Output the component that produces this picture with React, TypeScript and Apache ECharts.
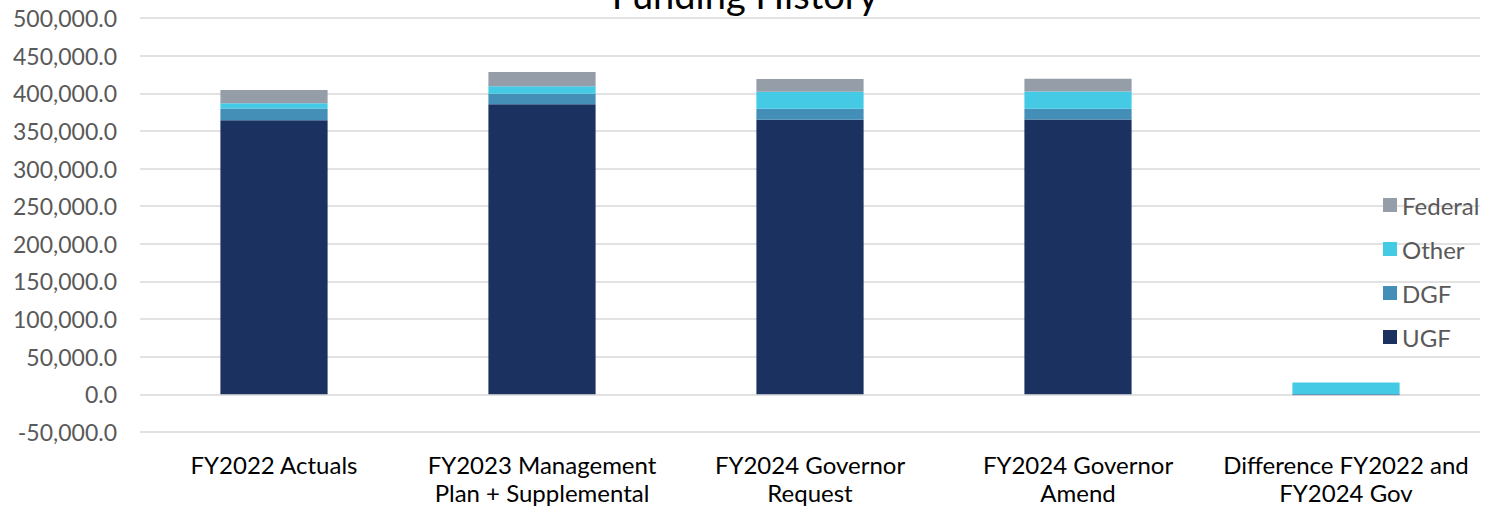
import React, { useEffect, useRef } from "react";
import * as echarts from "echarts";

const categories = [
  "FY2022 Actuals",
  "FY2023 Management\nPlan + Supplemental",
  "FY2024 Governor\nRequest",
  "FY2024 Governor\nAmend",
  "Difference FY2022 and\nFY2024 Gov",
];
const ugf = [364300, 385500, 364700, 365200, 400];
const dgf = [15400, 13700, 14600, 14300, -800];
const other = [7200, 10200, 22600, 22700, 15500];
const federal = [17600, 19000, 17200, 17200, -400];
const legendOrder = ["Federal", "Other", "DGF", "UGF"];

const FONT = "Lato, 'Open Sans', sans-serif";

export default function App() {
  const ref = useRef<HTMLDivElement>(null);
  useEffect(() => {
    document.body.style.margin = "0";
    const chart = echarts.init(ref.current!, undefined, { renderer: "svg" });
    const mk = (name: string, data: number[], color: string) => ({
      name,
      type: "bar",
      stack: "total",
      data,
      barWidth: "40%",
      itemStyle: { color },
    });
    chart.setOption({
      animation: false,
      textStyle: { fontFamily: FONT },
      title: {
        text: "Funding History",
        left: "center",
        top: -30,
        textStyle: { fontFamily: FONT, fontSize: 38, fontWeight: "normal", color: "#000" },
      },
      legend: {
        orient: "vertical",
        left: 1378,
        top: 188,
        data: legendOrder,
        icon: "rect",
        itemWidth: 14,
        itemHeight: 14,
        itemGap: 20,
        textStyle: { fontFamily: FONT, fontSize: 24, color: "#595959" },
      },
      grid: { left: 140, right: 10, top: 18, bottom: 79, containLabel: false },
      xAxis: {
        type: "category",
        data: categories,
        position: "bottom",
        axisLine: { show: false },
        axisTick: { show: false },
        axisLabel: {
          interval: 0,
          margin: 18,
          fontSize: 24,
          lineHeight: 28,
          color: "#000",
          fontFamily: FONT,
        },
      },
      yAxis: {
        type: "value",
        min: -50000,
        max: 500000,
        interval: 50000,
        axisLine: { show: false },
        axisTick: { show: false },
        splitLine: { lineStyle: { color: "#d9d9d9", width: 1.5 } },
        axisLabel: {
          margin: 23,
          fontSize: 23,
          color: "#595959",
          fontFamily: FONT,
          formatter: (v: number) =>
            v.toLocaleString("en-US", { minimumFractionDigits: 1, maximumFractionDigits: 1 }),
        },
      },
      series: [
        mk("UGF", ugf, "#1b3260"),
        mk("DGF", dgf, "#448fb8"),
        mk("Other", other, "#45cae6"),
        mk("Federal", federal, "#959ea8"),
      ],
    });
    return () => chart.dispose();
  }, []);
  return <div ref={ref} style={{ width: 1490, height: 511 }} />;
}
